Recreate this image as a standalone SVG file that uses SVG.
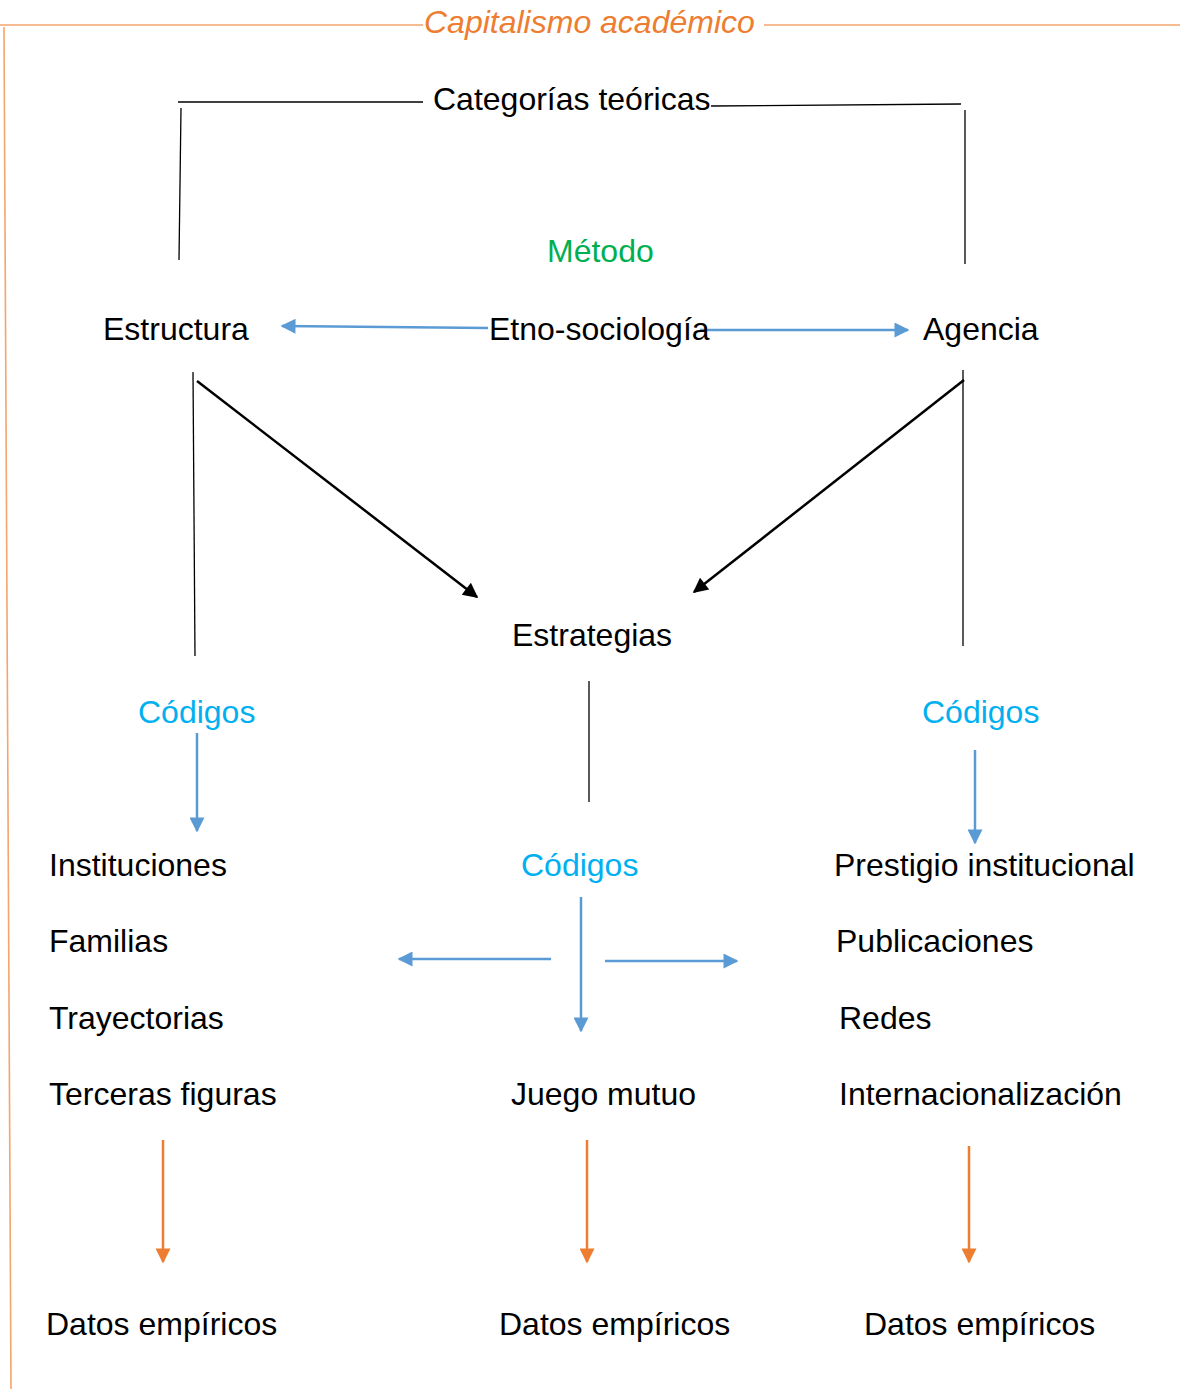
<svg xmlns="http://www.w3.org/2000/svg" width="1180" height="1389" viewBox="0 0 1180 1389">
  <defs>
    <style>
      text { font-family: "Liberation Sans", Arial, sans-serif; font-size: 32px; fill: #000; }
      .title { font-style: italic; fill: #ed7d31; }
      .green { fill: #00b050; }
      .code { fill: #00b0f0; }
      .frame { stroke: #f4a46c; stroke-width: 1.6; fill: none; }
      .thin { stroke: #000; stroke-width: 1.3; fill: none; }
      .blue { stroke: #5b9bd5; stroke-width: 2.5; fill: none; marker-end: url(#ahBlue); }
      .black { stroke: #000; stroke-width: 2.5; fill: none; marker-end: url(#ahBlack); }
      .orange { stroke: #ed7d31; stroke-width: 2.5; fill: none; marker-end: url(#ahOrange); }
    </style>
    <marker id="ahBlue" viewBox="0 0 10 10" refX="9" refY="5" markerUnits="userSpaceOnUse" markerWidth="16" markerHeight="15" orient="auto">
      <path d="M0,0 L10,5 L0,10 z" fill="#5b9bd5"/>
    </marker>
    <marker id="ahBlack" viewBox="0 0 10 10" refX="9" refY="5" markerUnits="userSpaceOnUse" markerWidth="20" markerHeight="15" orient="auto">
      <path d="M0,0 L10,5 L0,10 z" fill="#000"/>
    </marker>
    <marker id="ahOrange" viewBox="0 0 10 10" refX="9" refY="5" markerUnits="userSpaceOnUse" markerWidth="16" markerHeight="15" orient="auto">
      <path d="M0,0 L10,5 L0,10 z" fill="#ed7d31"/>
    </marker>
  </defs>

  <!-- outer frame with caption -->
  <g id="frame">
    <line class="frame" x1="0" y1="25" x2="423" y2="25"/>
    <line class="frame" x1="764" y1="25" x2="1180" y2="25"/>
    <line class="frame" x1="4" y1="27" x2="11" y2="1389"/>
    <text class="title" x="424" y="33">Capitalismo académico</text>
  </g>

  <!-- connectors -->
  <g id="connectors">
    <line class="thin" x1="178" y1="102" x2="423" y2="102"/>
    <line class="thin" x1="711" y1="106" x2="961" y2="104"/>
    <line class="thin" x1="181" y1="108" x2="179" y2="260"/>
    <line class="thin" x1="965" y1="110" x2="965" y2="264"/>
    <line class="blue" x1="488" y1="328" x2="282" y2="326"/>
    <line class="blue" x1="700" y1="330" x2="908" y2="330"/>
    <line class="thin" x1="193" y1="372" x2="195" y2="656"/>
    <line class="thin" x1="963" y1="370" x2="963" y2="646"/>
    <line class="black" x1="197" y1="381" x2="477" y2="597"/>
    <line class="black" x1="964" y1="380" x2="694" y2="592"/>
    <line class="thin" x1="589" y1="681" x2="589" y2="802"/>
    <line class="blue" x1="197" y1="733" x2="197" y2="831"/>
    <line class="blue" x1="975" y1="750" x2="975" y2="843"/>
    <line class="blue" x1="581" y1="897" x2="581" y2="1031"/>
    <line class="blue" x1="551" y1="959" x2="399" y2="959"/>
    <line class="blue" x1="605" y1="961" x2="737" y2="961"/>
    <line class="orange" x1="163" y1="1140" x2="163" y2="1262"/>
    <line class="orange" x1="587" y1="1140" x2="587" y2="1262"/>
    <line class="orange" x1="969" y1="1146" x2="969" y2="1262"/>
  </g>

  <g id="categorias"><text x="433" y="110">Categorías teóricas</text></g>
  <g id="metodo"><text class="green" x="547" y="262">Método</text></g>
  <g id="estructura"><text x="103" y="340">Estructura</text></g>
  <g id="etno"><text x="489" y="340">Etno-sociología</text></g>
  <g id="agencia"><text x="923" y="340">Agencia</text></g>
  <g id="estrategias"><text x="512" y="646">Estrategias</text></g>
  <g id="codigos-izq"><text class="code" x="138" y="723">Códigos</text></g>
  <g id="codigos-der"><text class="code" x="922" y="723">Códigos</text></g>
  <g id="codigos-centro"><text class="code" x="521" y="876">Códigos</text></g>

  <g id="lista-estructura">
    <text x="49" y="876">Instituciones</text>
    <text x="49" y="952">Familias</text>
    <text x="49" y="1029">Trayectorias</text>
    <text x="49" y="1105">Terceras figuras</text>
  </g>
  <g id="lista-agencia">
    <text x="834" y="876">Prestigio institucional</text>
    <text x="836" y="952">Publicaciones</text>
    <text x="839" y="1029">Redes</text>
    <text x="839" y="1105">Internacionalización</text>
  </g>
  <g id="juego"><text x="511" y="1105">Juego mutuo</text></g>

  <g id="datos-izq"><text x="46" y="1335">Datos empíricos</text></g>
  <g id="datos-centro"><text x="499" y="1335">Datos empíricos</text></g>
  <g id="datos-der"><text x="864" y="1335">Datos empíricos</text></g>
</svg>
